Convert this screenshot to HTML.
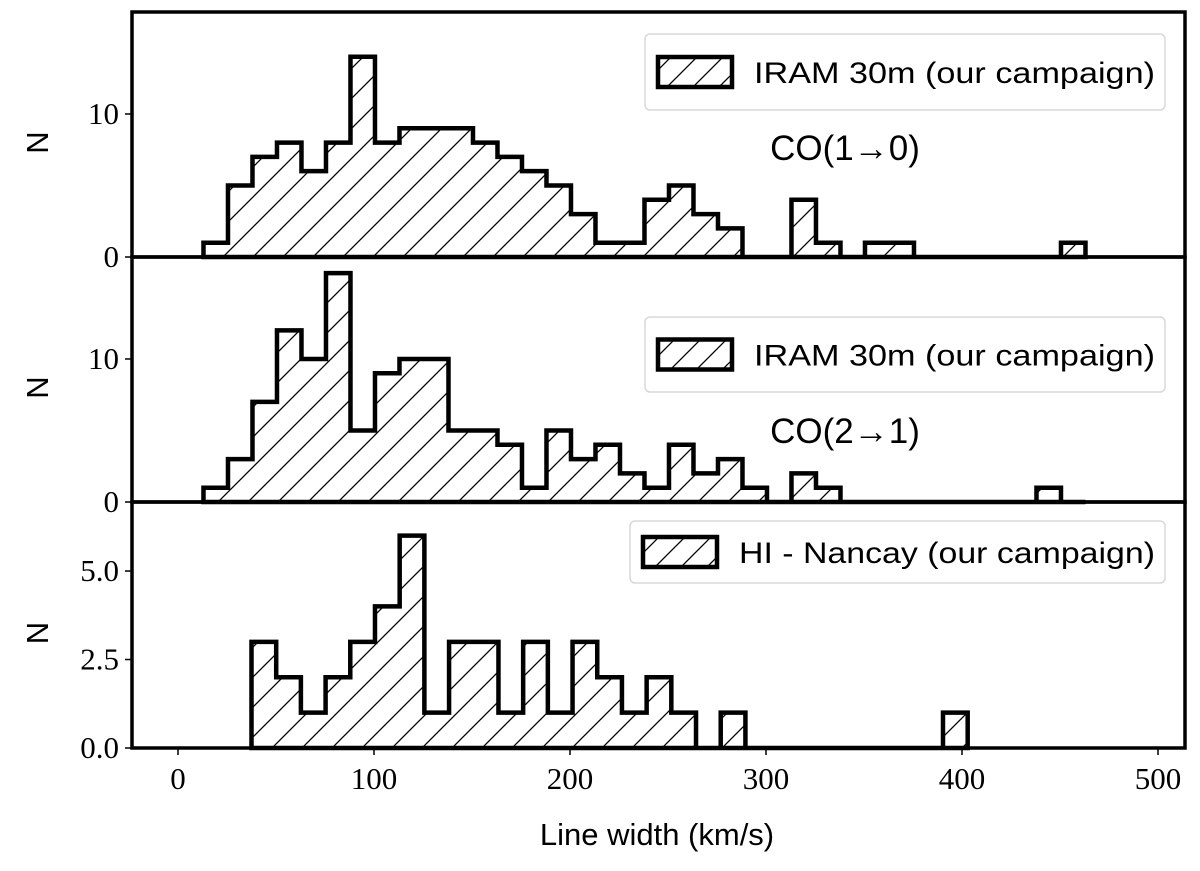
<!DOCTYPE html>
<html><head><meta charset="utf-8"><style>
html,body{margin:0;padding:0;background:#fff;}
svg{display:block;}
.tk{font-family:"Liberation Serif",serif;font-size:31px;fill:#000;}
.sans{font-family:"Liberation Sans",sans-serif;fill:#000;}
</style></head><body>
<svg id="chart" width="1200" height="871" viewBox="0 0 1200 871" xmlns="http://www.w3.org/2000/svg">
<defs>
<pattern id="hatch" patternUnits="userSpaceOnUse" width="30" height="30">
<path d="M-5,35 L35,-5 M-35,35 L5,-5 M25,35 L65,-5" stroke="#000" stroke-width="1.3" fill="none"/>
</pattern>
<pattern id="hatchL" patternUnits="userSpaceOnUse" width="26" height="26">
<path d="M-5,31 L31,-5 M-31,31 L5,-5 M21,31 L57,-5" stroke="#000" stroke-width="1.3" fill="none"/>
</pattern>
</defs>
<g id="plots"></g>
</svg>
<script>
// ---- data ----
const co10Start = 13, co10Width = 12.5;
const co10Counts = [1,5,7,8,6,8,14,8,9,9,9,8,7,6,5,3,1,1,4,5,3,2,0,0,4,1,0,1,1,0,0,0,0,0,0,1];
const co21Start = 13, co21Width = 12.5;
const co21Counts = [1,3,7,12,10,16,5,9,10,10,5,5,4,1,5,3,4,2,1,4,2,3,1,0,2,1,0,0,0,0,0,0,0,0,1,0];
const hiStart = 37.5, hiWidth = 12.6;
const hiCounts = [3,2,1,2,3,4,6,1,3,3,1,3,1,3,2,1,2,1,0,1,0,0,0,0,0,0,0,0,1];
const xTicks = [0,100,200,300,400,500];
const yTicks1 = [0,10], yTickLabels1 = ["0","10"];
const yTicks2 = [0,10], yTickLabels2 = ["0","10"];
const yTicks3 = [0,2.5,5.0], yTickLabels3 = ["0.0","2.5","5.0"];

// ---- layout ----
const L = 132, R = 1185;
const xScale = v => 178 + v * 1.96;
const panels = [
  {name:'co10', top:12, bottom:257, ymax:17.13, start:co10Start, w:co10Width, counts:co10Counts, ticks:yTicks1, labels:yTickLabels1,
   legend:{x:645,y:34,w:520,h:76,text:'IRAM 30m (our campaign)'}, note:{text:'CO(1\u21920)', x:845, y:160}},
  {name:'co21', top:257, bottom:502, ymax:17.13, start:co21Start, w:co21Width, counts:co21Counts, ticks:yTicks2, labels:yTickLabels2,
   legend:{x:645,y:317,w:520,h:75,text:'IRAM 30m (our campaign)'}, note:{text:'CO(2\u21921)', x:845, y:443}},
  {name:'hi', top:502, bottom:748, ymax:6.95, start:hiStart, w:hiWidth, counts:hiCounts, ticks:yTicks3, labels:yTickLabels3,
   legend:{x:630,y:521,w:535,h:62,text:'HI - Nancay (our campaign)'}, note:null}
];
const NS = 'http://www.w3.org/2000/svg';
const root = document.getElementById('plots');
function mk(tag, attrs, parent){const e=document.createElementNS(NS,tag);for(const k in attrs)e.setAttribute(k,attrs[k]);(parent||root).appendChild(e);return e;}

panels.forEach(p=>{
  const g = mk('g',{});
  
  
  const ys = v => p.bottom - v*(p.bottom-p.top)/p.ymax;
  let d = '';
  let started=false;
  p.counts.forEach((c,i)=>{
    const x0 = xScale(p.start + i*p.w), x1 = xScale(p.start + (i+1)*p.w);
    if(!started){ d += 'M'+x0+','+ys(0); started=true; }
    d += ' L'+x0+','+ys(c)+' L'+x1+','+ys(c);
  });
  d += ' L'+xScale(p.start + p.counts.length*p.w)+','+ys(0)+' Z';
  const h = mk('path',{d:d, fill:'url(#hatch)', stroke:'#000','stroke-width':4.5,'stroke-linejoin':'miter'}, g);
  
  
  const fr = mk('rect',{x:L,y:p.top,width:R-L,height:p.bottom-p.top,fill:'none',stroke:'#000','stroke-width':3.5}, g);
  
  
  p.ticks.forEach((t,i)=>{
    mk('line',{x1:L-7,x2:L,y1:ys(t),y2:ys(t),stroke:'#000','stroke-width':1.5}, g);
    const tx = mk('text',{x:L-13,y:ys(t)+10,'text-anchor':'end',class:'tk'}, g);
    tx.textContent = p.labels[i];
    
    
  });
  const yc = (p.top+p.bottom)/2;
  const yt = mk('text',{x:0,y:0,transform:'translate(48,'+(yc+8)+') rotate(-90)','text-anchor':'middle',class:'sans','font-size':31}, g);
  yt.textContent = 'N';
  
  
  const lg = mk('g',{}, g);
  
  
  mk('rect',{x:p.legend.x,y:p.legend.y,width:p.legend.w,height:p.legend.h,rx:5,fill:'#fff',stroke:'#d8d8d8','stroke-width':1.5}, lg);
  const pw=74, ph=30, px=p.legend.x+13, py=p.legend.y+p.legend.h/2-ph/2;
  mk('rect',{x:px,y:py,width:pw,height:ph,fill:'url(#hatchL)',stroke:'#000','stroke-width':4.5}, lg);
  const lt = mk('text',{x:px+pw+22,y:p.legend.y+p.legend.h/2+11,class:'sans','font-size':30,textLength:p.legend.w-pw-45,lengthAdjust:'spacingAndGlyphs'}, lg);
  lt.textContent = p.legend.text;
  if(p.note){
    const nt = mk('text',{x:p.note.x,y:p.note.y,'text-anchor':'middle',class:'sans','font-size':35}, g);
    nt.textContent = p.note.text;
    
    
  }
});
xTicks.forEach(t=>{
  mk('line',{x1:xScale(t),x2:xScale(t),y1:748,y2:755,stroke:'#000','stroke-width':1.5});
  const tx = mk('text',{x:xScale(t),y:789,'text-anchor':'middle',class:'tk'});
  tx.textContent = String(t);
  
  
});
const xt = mk('text',{x:657,y:845,'text-anchor':'middle',class:'sans','font-size':31});
xt.textContent = 'Line width (km/s)';


</script>
</body></html>
